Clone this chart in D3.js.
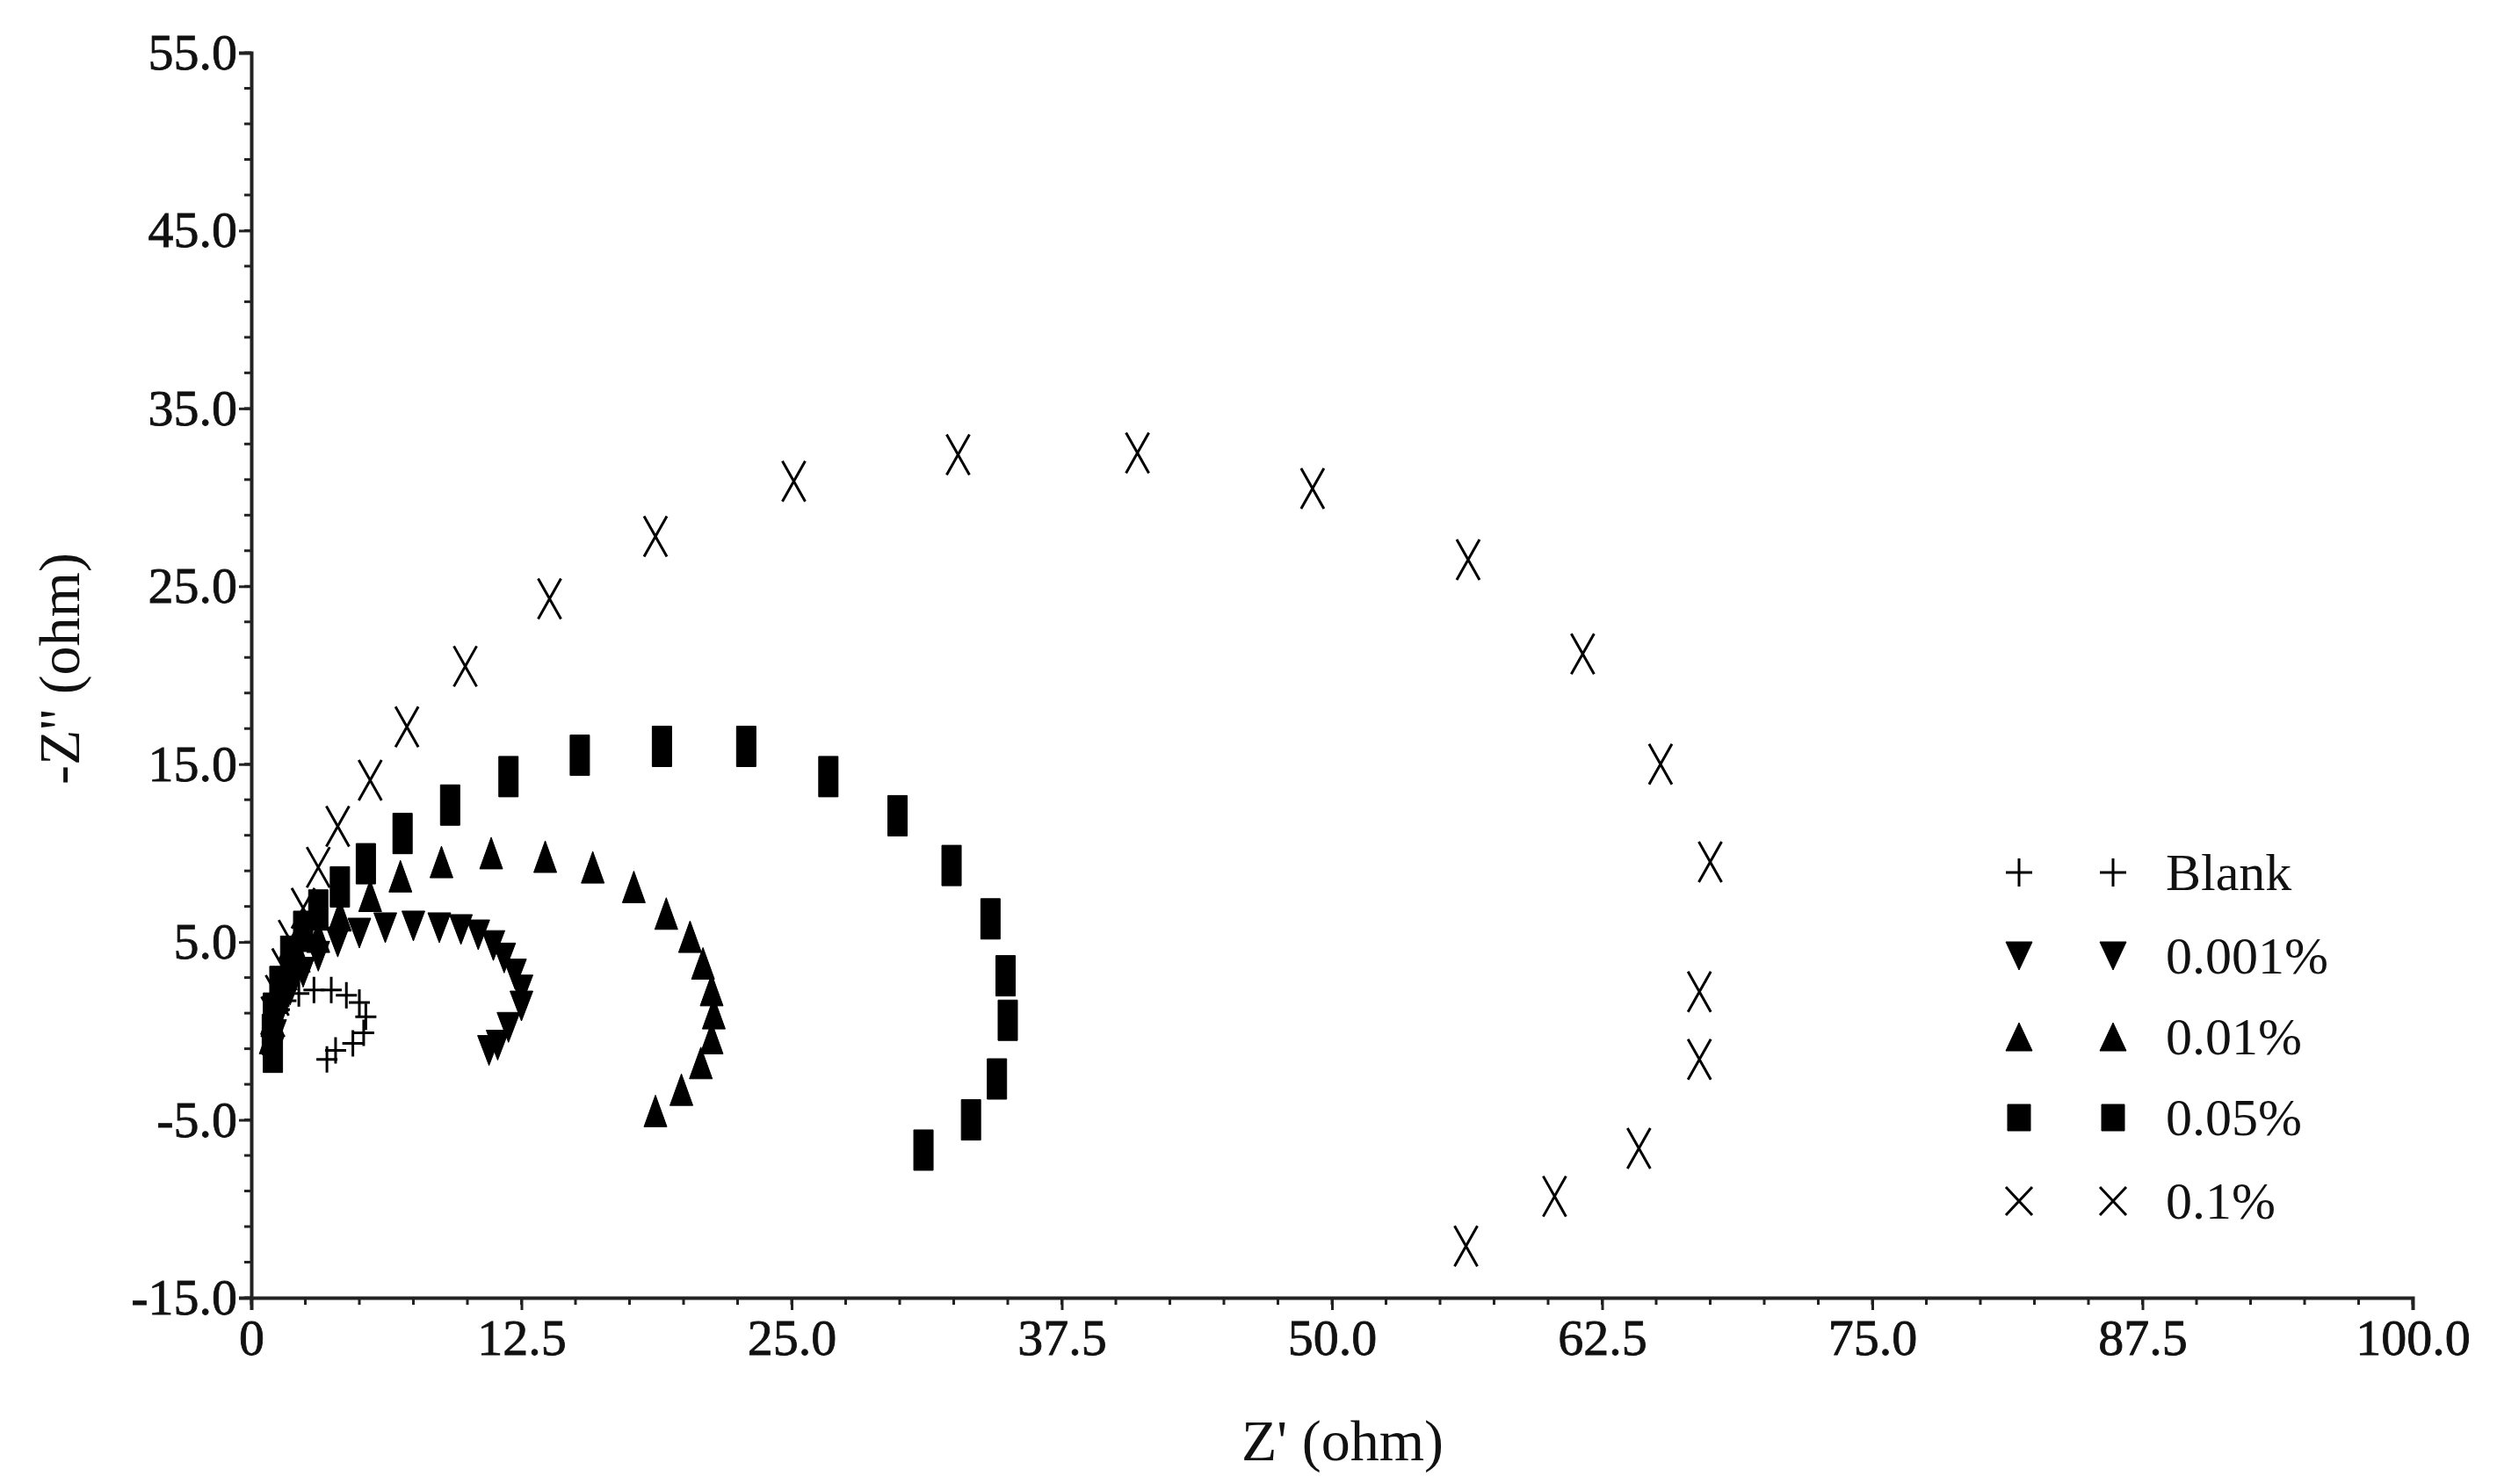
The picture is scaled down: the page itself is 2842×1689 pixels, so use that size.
<!DOCTYPE html><html><head><meta charset="utf-8"><script src="https://cdn.jsdelivr.net/npm/d3@7"></script>
<style>body{margin:0;background:#fff}</style></head><body><svg id="c" width="2842" height="1689"></svg>
<script>
const seriesNames=["Blank","0.001%","0.01%","0.05%","0.1%"];
const blankX=[3.5,3.9,4.7,5.2,5.3,5.0,4.4,3.7,2.9,2.2,1.6,1.3,1.0,0.96];
const blankY=[-1.6,-1.1,-0.7,-0.1,0.8,1.6,2.0,2.3,2.3,2.1,1.7,1.2,0.5,-0.2];
const s001X=[11.0,11.4,11.9,12.5,12.5,12.2,11.7,11.2,10.5,9.7,8.7,7.5,6.2,5.0,4.0,3.1,2.4,1.8,1.3,1.1,1.0];
const s001Y=[-1.1,-0.8,0.2,1.4,2.3,3.2,4.1,4.8,5.4,5.7,5.8,5.9,5.8,5.5,5.0,4.2,3.3,2.3,1.0,-0.2,-1.1];
const s01X=[18.7,19.9,20.8,21.3,21.4,21.3,20.9,20.3,19.2,17.7,15.8,13.6,11.1,8.8,6.9,5.5,4.1,3.1,2.2,1.6,1.2,0.96,0.9];
const s01Y=[-4.5,-3.3,-1.8,-0.4,1.0,2.3,3.8,5.3,6.6,8.1,9.2,9.8,10.0,9.5,8.7,7.6,6.5,5.3,4.2,3.2,2.0,0.7,-0.4];
const s05X=[31.1,33.3,34.5,35.0,34.9,34.2,32.4,29.9,26.7,22.9,19.0,15.2,11.9,9.2,7.0,5.3,4.1,3.1,2.4,1.8,1.3,1.0,0.95,1.0];
const s05Y=[-6.7,-5.0,-2.7,0.6,3.1,6.3,9.3,12.1,14.3,16.0,16.0,15.5,14.3,12.7,11.1,9.4,8.1,6.8,5.6,4.2,2.5,1.0,-0.2,-1.2];
const s1X=[56.2,60.3,64.2,67.0,67.0,67.5,65.2,61.6,56.3,49.1,41.0,32.7,25.1,18.7,13.8,9.9,7.2,5.5,4.0,3.1,2.4,1.8,1.5,1.2,1.0];
const s1Y=[-12.1,-9.3,-6.6,-1.6,2.2,9.5,15.0,21.2,26.5,30.5,32.5,32.4,30.9,27.8,24.3,20.5,17.1,14.1,11.5,9.2,6.9,5.1,3.5,2.0,0.8];
const xTicks=[0,12.5,25,37.5,50,62.5,75,87.5,100];
const yTicks=[-15,-5,5,15,25,35,45,55];

const L=286,R=2746,T=60,B=1477;
const svg=d3.select("#c");
const x=d3.scaleLinear().domain([0,100]).range([L,R]);
const y=d3.scaleLinear().domain([-15,55]).range([B,T]);
const font="'Liberation Serif','Times New Roman',serif";
const shapes={
 plus:(w,h)=>`M${-w/2},0H${w/2}M0,${-h/2}V${h/2}`,
 down:(w,h)=>`M${-w/2},${-h/2}H${w/2}L0,${h/2}Z`,
 up:(w,h)=>`M${-w/2},${h/2}H${w/2}L0,${-h/2}Z`,
 sq:(w,h)=>`M${-w/2},${-h/2}H${w/2}V${h/2}H${-w/2}Z`,
 cross:(w,h)=>`M${-w/2},${-h/2}L${w/2},${h/2}M${w/2},${-h/2}L${-w/2},${h/2}`
};
const series=[
 {xs:blankX,ys:blankY,s:"plus",w:24,h:30,fill:false},
 {xs:s001X,ys:s001Y,s:"down",w:26,h:34,fill:true},
 {xs:s01X,ys:s01Y,s:"up",w:26,h:36,fill:true},
 {xs:s05X,ys:s05Y,s:"sq",w:22,h:46,fill:true},
 {xs:s1X,ys:s1Y,s:"cross",w:26,h:46,fill:false}
];
function mark(g,sr){
 g.attr("d",shapes[sr.s](sr.w,sr.h)).attr("fill",sr.fill?"#000":"none").attr("stroke","#000").attr("stroke-width",sr.fill?1:3);
}
const ya=d3.axisLeft(y).tickValues(yTicks).tickFormat(d=>d.toFixed(1)).tickSize(14);
const gy=svg.append("g").attr("transform",`translate(${L},0)`).call(ya);
const xa=d3.axisBottom(x).tickValues(xTicks).tickFormat(d=>d===0?"0":d.toFixed(1)).tickSize(14);
const gx=svg.append("g").attr("transform",`translate(0,${B})`).call(xa);
[gx,gy].forEach(g=>{g.select(".domain").attr("stroke","#222").attr("stroke-width",4);
 g.selectAll(".tick line").attr("stroke","#222").attr("stroke-width",3);
 g.selectAll("text").attr("font-family",font).attr("font-size",58).attr("fill","#111").attr("stroke","#111").attr("stroke-width",0.8);});
gy.selectAll("text").attr("x",-16);
gx.selectAll("text").attr("y",24);
svg.append("g").selectAll("line").data(d3.range(-15,55.01,2)).join("line")
 .attr("x1",L-8).attr("x2",L).attr("y1",d=>y(d)).attr("y2",d=>y(d)).attr("stroke","#222").attr("stroke-width",3);
svg.append("g").selectAll("line").data(d3.range(0,100.01,2.5)).join("line")
 .attr("y1",B).attr("y2",B+8).attr("x1",d=>x(d)).attr("x2",d=>x(d)).attr("stroke","#222").attr("stroke-width",3);
svg.append("text").attr("x",(L+R)/2+12).attr("y",1662).attr("text-anchor","middle").attr("font-family",font).attr("font-size",66).attr("fill","#111").text("Z' (ohm)");
svg.append("text").attr("transform","translate(90,761) rotate(-90)").attr("text-anchor","middle").attr("font-family",font).attr("font-size",66).attr("fill","#111").text("-Z'' (ohm)");
series.forEach(sr=>{
 svg.append("g").selectAll("path").data(sr.xs.map((v,i)=>[v,sr.ys[i]])).join("path")
  .attr("transform",d=>`translate(${x(d[0])},${y(d[1])})`).call(mark,sr);
});
const ly=[993,1088,1180,1272,1367];
series.forEach((sr,i)=>{
 [2298,2405].forEach(mx=>svg.append("path").attr("transform",`translate(${mx},${ly[i]})`).call(mark,{...sr,w:sr.s==="sq"?26:30,h:sr.s==="sq"?30:32}));
 svg.append("text").attr("x",2465).attr("y",ly[i]+20).attr("font-family",font).attr("font-size",60).attr("fill","#111").text(seriesNames[i]);
});
</script></body></html>
